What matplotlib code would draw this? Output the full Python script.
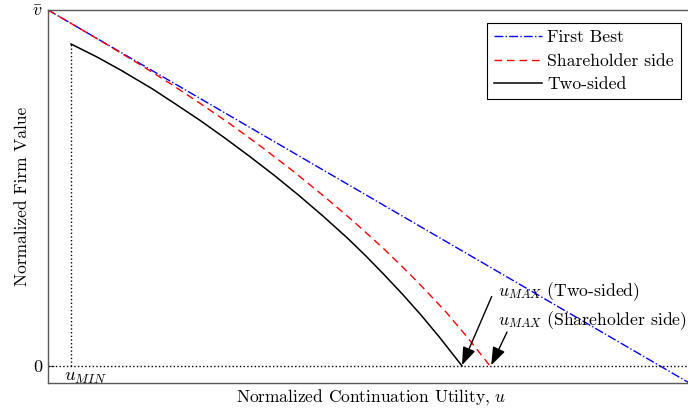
import matplotlib
matplotlib.use("Agg")
import matplotlib.pyplot as plt
import numpy as np

plt.rcParams['font.family'] = 'cmr10'
plt.rcParams['mathtext.fontset'] = 'cm'
plt.rcParams['axes.formatter.use_mathtext'] = True

# Normalized continuation utility u and firm value for each policy
u_first_best = [0.0, 1.0556]
v_first_best = [1.0, -0.0556]

u_shareholder = [0.0, 0.05, 0.10, 0.15, 0.20, 0.25, 0.30, 0.35, 0.40, 0.45,
                 0.50, 0.55, 0.59, 0.62, 0.65, 0.685, 0.7222]
v_shareholder = [1.0, 0.950, 0.899, 0.847, 0.793, 0.736, 0.677, 0.614, 0.548,
                 0.478, 0.405, 0.327, 0.260, 0.207, 0.152, 0.081, 0.0]

u_two_sided = [0.0376, 0.08, 0.12, 0.17, 0.21, 0.25, 0.29, 0.33, 0.37, 0.41,
               0.45, 0.49, 0.52, 0.55, 0.58, 0.61, 0.64, 0.6765]
v_two_sided = [0.9045, 0.868, 0.830, 0.779, 0.734, 0.688, 0.639, 0.588, 0.535,
               0.479, 0.420, 0.358, 0.308, 0.255, 0.200, 0.142, 0.080, 0.0]

u_min = u_two_sided[0]
v_at_u_min = v_two_sided[0]
u_max_two = u_two_sided[-1]
u_max_share = u_shareholder[-1]

fig = plt.figure(figsize=(6.88, 4.13), dpi=100)
# the axes run slightly past the right edge of the figure
ax = fig.add_axes([48 / 688, 30 / 413, 646 / 688, 373 / 413])

ax.plot(u_first_best, v_first_best, color='b', linestyle='-.', lw=1.0,
        label='First Best')
ax.plot(u_shareholder, v_shareholder, color='r', lw=1.0, dashes=(5.5, 3.5),
        label='Shareholder side')
ax.plot(u_two_sided, v_two_sided, color='k', lw=1.1, label='Two-sided')

# zero line and u_MIN marker
ax.axhline(0, color='k', linestyle=':', lw=1.0)
ax.plot([u_min, u_min], [0, v_at_u_min], color='k', linestyle=':', lw=1.0)
ax.text(u_min - 0.012, -0.031, r'$u_{MIN}$', fontsize=13.5, ha='left',
        va='center')

# u_MAX annotations
head = '-|>,head_width=0.4,head_length=1.1'
ax.annotate('', xy=(u_max_two, 0.002), xytext=(0.725, 0.195),
            arrowprops=dict(arrowstyle=head, color='k', lw=1.0,
                            shrinkA=0, shrinkB=0))
ax.text(0.735, 0.208, r'$u_{MAX}$ (Two-sided)', fontsize=12.7,
        ha='left', va='center')
ax.annotate('', xy=(u_max_share + 0.002, 0.002), xytext=(0.75, 0.095),
            arrowprops=dict(arrowstyle=head, color='k', lw=1.0,
                            shrinkA=0, shrinkB=0))
ax.text(0.735, 0.126, r'$u_{MAX}$ (Shareholder side)', fontsize=12.7,
        ha='left', va='center')

ax.set_xlim(0, 1.0556)
ax.set_ylim(-0.048, 1.0)
ax.set_xticks([])
ax.set_yticks([0, 1])
ax.set_yticklabels(['0', r'$\bar{v}$'], fontsize=13)
ax.tick_params(axis='y', direction='in', length=4, width=0.8, color='0.3',
               pad=4)
for s in ax.spines.values():
    s.set_color('0.35')
    s.set_linewidth(1.0)

ax.set_xlabel(r'Normalized Continuation Utility, $u$', fontsize=12.5,
              labelpad=3)
ax.set_ylabel('Normalized Firm Value', fontsize=12.5, labelpad=1)

leg = ax.legend(loc='upper right', fontsize=12.7, fancybox=False, framealpha=1,
                edgecolor='k', handlelength=2.7, handletextpad=0.3,
                borderpad=0.4, labelspacing=0.45, borderaxespad=0.74)
leg.get_frame().set_linewidth(0.8)

fig.savefig('out.png', dpi=100)
